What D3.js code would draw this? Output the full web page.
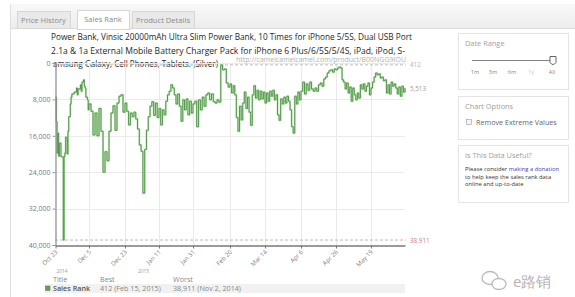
<!DOCTYPE html>
<html><head><meta charset="utf-8">
<script src="https://cdn.jsdelivr.net/npm/d3@7"></script>
<style>html,body{margin:0;padding:0;background:#fff;overflow:hidden}text{font-family:"Open Sans",sans-serif}</style>
</head><body><svg id="c" width="575" height="297"></svg>
<script>
// ---- data ----
const tabLabels = ["Price History", "Sales Rank", "Product Details"];
const titleLines = [
  "Power Bank, Vinsic 20000mAh Ultra Slim Power Bank, 10 Times for iPhone 5/5S, Dual USB Port",
  "2.1a & 1a External Mobile Battery Charger Pack for iPhone 6 Plus/6/5S/5/4S, iPad, iPod, S-",
  "amsung Galaxy, Cell Phones, Tablets. (Silver)"
];
const sourceUrl = "http://camelcamelcamel.com/product/B00NGG9IOU";
const tickDates = ["2014-10-23","2014-12-05","2014-12-23","2015-01-11","2015-01-31","2015-02-20","2015-03-14","2015-04-06","2015-04-26","2015-05-19"];
const tickLabels = ["Oct 23","Dec 5","Dec 23","Jan 11","Jan 31","Feb 20","Mar 14","Apr 6","Apr 26","May 19"];
const endDate = "2015-06-10";
const yearLabels = ["2014", "2015"];
const yearDates = ["2014-10-23", "2015-01-01"];
const yTicks = [0, 8000, 16000, 24000, 32000, 40000];
const rankDates = [
"2014-10-23","2014-10-24","2014-10-25","2014-10-26","2014-10-27","2014-10-28","2014-10-30","2014-10-31","2014-11-02","2014-11-03",
"2014-11-04","2014-11-05","2014-11-07","2014-11-08","2014-11-09","2014-11-11","2014-11-12","2014-11-13","2014-11-16","2014-11-19",
"2014-11-20","2014-11-21","2014-11-24","2014-11-25","2014-11-26","2014-11-28","2014-11-29","2014-11-30","2014-12-01","2014-12-03",
"2014-12-04","2014-12-05","2014-12-06","2014-12-07","2014-12-08","2014-12-09","2014-12-10","2014-12-11","2014-12-12","2014-12-13",
"2014-12-14","2014-12-15","2014-12-16","2014-12-17","2014-12-18","2014-12-19","2014-12-20","2014-12-21","2014-12-22","2014-12-23",
"2014-12-24","2014-12-25","2014-12-26","2014-12-27","2014-12-28","2014-12-29","2014-12-30","2014-12-31","2015-01-01","2015-01-02",
"2015-01-03","2015-01-04","2015-01-05","2015-01-06","2015-01-07","2015-01-08","2015-01-09","2015-01-10","2015-01-11","2015-01-12",
"2015-01-13","2015-01-14","2015-01-15","2015-01-16","2015-01-17","2015-01-18","2015-01-19","2015-01-20","2015-01-21","2015-01-22",
"2015-01-23","2015-01-24","2015-01-25","2015-01-26","2015-01-27","2015-01-28","2015-01-29","2015-01-30","2015-01-31","2015-02-01",
"2015-02-02","2015-02-03","2015-02-04","2015-02-05","2015-02-06","2015-02-07","2015-02-08","2015-02-09","2015-02-10","2015-02-11",
"2015-02-12","2015-02-13","2015-02-14","2015-02-15","2015-02-16","2015-02-17","2015-02-18","2015-02-19","2015-02-20","2015-02-21",
"2015-02-22","2015-02-23","2015-02-24","2015-02-25","2015-02-26","2015-02-27","2015-02-28","2015-03-01","2015-03-02","2015-03-03",
"2015-03-04","2015-03-05","2015-03-06","2015-03-07","2015-03-08","2015-03-09","2015-03-10","2015-03-11","2015-03-12","2015-03-13",
"2015-03-14","2015-03-15","2015-03-16","2015-03-17","2015-03-18","2015-03-19","2015-03-20","2015-03-21","2015-03-22","2015-03-23",
"2015-03-24","2015-03-25","2015-03-26","2015-03-27","2015-03-28","2015-03-29","2015-03-30","2015-03-31","2015-04-01","2015-04-02",
"2015-04-03","2015-04-04","2015-04-05","2015-04-06","2015-04-07","2015-04-08","2015-04-09","2015-04-10","2015-04-11","2015-04-12",
"2015-04-13","2015-04-14","2015-04-15","2015-04-16","2015-04-17","2015-04-18","2015-04-19","2015-04-20","2015-04-21","2015-04-22",
"2015-04-23","2015-04-24","2015-04-25","2015-04-26","2015-04-27","2015-04-28","2015-04-29","2015-04-30","2015-05-01","2015-05-02",
"2015-05-03","2015-05-04","2015-05-05","2015-05-06","2015-05-07","2015-05-08","2015-05-09","2015-05-10","2015-05-11","2015-05-12",
"2015-05-13","2015-05-14","2015-05-15","2015-05-16","2015-05-17","2015-05-18","2015-05-19","2015-05-20","2015-05-21","2015-05-22",
"2015-05-23","2015-05-24","2015-05-25","2015-05-26","2015-05-27","2015-05-28","2015-05-29","2015-05-30","2015-05-31","2015-06-01",
"2015-06-02","2015-06-03","2015-06-04","2015-06-05","2015-06-06","2015-06-07","2015-06-08","2015-06-09","2015-06-10"];
const rankValues = [
7500,12900,19800,15400,20500,17600,20600,20600,38911,20600,
19800,16300,20000,15000,11800,9000,7500,6800,6400,5500,
7000,5700,4800,6200,4200,3700,5100,5500,7500,8100,
10300,9000,10600,15800,11000,16000,10000,15000,24000,19500,
21500,15000,11000,9400,14800,8800,7300,7000,10800,8800,
10600,13600,11000,11800,10800,12300,14500,18000,19400,28600,
19000,14800,11800,9500,8500,11500,8800,12000,10000,13600,
10300,11400,8400,7000,6200,4800,5500,7000,9000,6800,
9500,12800,8100,10300,7900,11400,8400,11000,9000,8400,
14000,8100,10300,7500,9500,7000,6600,8100,6800,8500,
8800,8100,8600,412,1500,1300,4400,5300,4600,6600,
5000,7000,12000,15000,9500,12500,8800,6400,10000,7500,
10800,13700,7000,5000,7700,6000,8100,6200,7900,6400,
8800,6600,8400,6200,7300,6000,8100,7000,11400,12600,
7900,9000,7500,8800,7300,8400,10300,14000,15400,7300,
9000,6400,8100,6200,4200,6800,4600,6000,4200,5700,
6200,5500,6200,4800,4400,5100,3500,3100,2200,1700,
1500,2000,1300,1500,1100,900,1100,3700,4200,5700,
4400,6600,5300,8400,5500,7000,8100,6600,7700,4800,
5700,4600,6200,5100,4400,7000,5500,4200,3100,2200,
2600,2400,3300,3100,3900,3700,6600,4800,6800,4200,
5100,4600,5500,6800,5300,7300,5100,6400,5513];
const bestValue = 412, worstValue = 38911;
const legendHeaders = ["Title", "Best", "Worst"];
const legendRow = ["Sales Rank", "412 (Feb 15, 2015)", "38,911 (Nov 2, 2014)"];
const rangeLabels = ["1m", "3m", "6m", "1y", "All"];
const panelTitles = ["Date Range", "Chart Options", "Is This Data Useful?"];

// ---- drawing ----
const parse = d3.timeParse("%Y-%m-%d");
const svg = d3.select("#c");
const fmt = d3.format(",");

// page chrome
svg.append("rect").attr("x",0).attr("y",0).attr("width",575).attr("height",297).attr("fill","#fff");
const grad = svg.append("defs").append("linearGradient").attr("id","tb").attr("x1",0).attr("y1",0).attr("x2",0).attr("y2",1);
grad.append("stop").attr("offset","0").attr("stop-color","#f9f9f9");
grad.append("stop").attr("offset","1").attr("stop-color","#ededed");
svg.append("rect").attr("x",10).attr("y",4).attr("width",565).attr("height",24).attr("fill","url(#tb)");
svg.append("line").attr("x1",10).attr("x2",575).attr("y1",28.5).attr("y2",28.5).attr("stroke","#dcdcdc");
svg.append("line").attr("x1",10.5).attr("x2",10.5).attr("y1",4).attr("y2",297).attr("stroke","#dedede");

const tabBoxes = [[17,11,53,17],[77,10,52,19],[132,11,62,17]];
tabLabels.forEach((t,i)=>{
  const b = tabBoxes[i];
  svg.append("rect").attr("x",b[0]+0.5).attr("y",b[1]+0.5).attr("width",b[2]).attr("height",b[3])
    .attr("fill", i===1 ? "#fff" : "#e9e9e9").attr("stroke","#d6d6d6");
  svg.append("text").attr("x",b[0]+b[2]/2).attr("y",b[1]+11.5).attr("text-anchor","middle")
    .attr("font-size",7.6).attr("fill","#8a8a8a").text(t);
});

// title
const titleX = [51, 51, 53], titleW = [361, 354, 165], titleY = [40, 53.5, 66.5];
titleLines.forEach((t,i)=>{
  svg.append("text").attr("x",titleX[i]).attr("y",titleY[i]).attr("font-size",9.4).attr("fill","#262626")
    .attr("textLength",titleW[i]).attr("lengthAdjust","spacingAndGlyphs").text(t);
});

// scales
const x = d3.scaleTime()
  .domain(tickDates.map(parse).concat([parse(endDate)]))
  .range([55.5, 89, 125, 159, 193, 230, 265, 301, 336, 371, 405]);
const y = d3.scaleLinear().domain([0, 40000]).range([63, 245]);

// grid
svg.append("g").selectAll("line").data(yTicks).join("line")
  .attr("x1",55).attr("x2",405).attr("y1",d=>Math.round(y(d))+0.5).attr("y2",d=>Math.round(y(d))+0.5)
  .attr("stroke","#eaeaea");
svg.append("g").selectAll("line").data(tickDates.slice(1)).join("line")
  .attr("x1",d=>Math.round(x(parse(d)))+0.5).attr("x2",d=>Math.round(x(parse(d)))+0.5)
  .attr("y1",63).attr("y2",245).attr("stroke","#eaeaea");

// url
svg.append("text").attr("x",236).attr("y",62.3).attr("font-size",6.2).attr("fill","#b0b0b0")
  .attr("textLength",170).attr("lengthAdjust","spacingAndGlyphs").text(sourceUrl);

// best / worst dashed
[bestValue, worstValue].forEach((v,i)=>{
  svg.append("line").attr("x1",55).attr("x2",406).attr("y1",y(v)).attr("y2",y(v))
    .attr("stroke", "#bcbcbc").attr("stroke-dasharray","3,2").attr("stroke-width",1);
  svg.append("text").attr("x",410).attr("y",y(v)+2.5).attr("font-size",6.3)
    .attr("fill", i===0 ? "#b5b5b5" : "#c98080").text(fmt(v));
});

// series
const data = rankDates.map((d,i)=>({date: parse(d), v: rankValues[i]}));
const line = d3.line().x(d=>x(d.date)).y(d=>y(d.v)).curve(d3.curveStepAfter);
svg.append("path").datum(data).attr("d",line).attr("fill","none").attr("stroke","#c3e6bb").attr("stroke-width",2).attr("stroke-linejoin","round");
svg.append("path").datum(data).attr("d",line).attr("fill","none").attr("stroke","#4a8e42").attr("stroke-width",0.9);

// last value label
svg.append("text").attr("x",410).attr("y",y(rankValues[rankValues.length-1])+2.5).attr("font-size",6.3)
  .attr("fill","#9a9a9a").text(fmt(rankValues[rankValues.length-1]));

// axes
const yAxis = svg.append("g").attr("transform","translate(55.5,0)")
  .call(d3.axisLeft(y).tickValues(yTicks).tickFormat(fmt).tickSize(3).tickPadding(2));
yAxis.select(".domain").attr("stroke","#8a8a8a").attr("stroke-width",1.2);
yAxis.selectAll(".tick line").attr("stroke","#999");
yAxis.selectAll("text").attr("font-size",7).attr("fill","#777").attr("font-family","Open Sans");

const xAxis = svg.append("g").attr("transform","translate(0,245.5)")
  .call(d3.axisBottom(x).tickValues(tickDates.map(parse)).tickFormat((d,i)=>tickLabels[i]).tickSize(3).tickSizeOuter(0));
xAxis.select(".domain").attr("stroke","#9a9a9a").attr("stroke-width",2);
xAxis.selectAll(".tick line").attr("stroke","#777");
xAxis.selectAll("text").attr("font-size",6.2).attr("fill","#808080").attr("font-family","Open Sans")
  .attr("text-anchor","end").attr("dy",0).attr("dx",0).attr("y",0)
  .attr("transform","translate(2,7) rotate(-45)");

// year labels
yearLabels.forEach((t,i)=>{
  svg.append("text").attr("x",x(parse(yearDates[i]))+ (i===0?1:-3)).attr("y",273).attr("font-size",4.8).attr("fill","#999").text(t);
});

// legend
svg.append("rect").attr("x",45).attr("y",284).attr("width",360).attr("height",9).attr("fill","#f1f1f1");
const legX = [53, 100, 173];
legendHeaders.forEach((t,i)=>{
  svg.append("text").attr("x",legX[i]).attr("y",282).attr("font-size",7.2).attr("fill","#888").text(t);
});
legendRow.forEach((t,i)=>{
  svg.append("text").attr("x",legX[i]).attr("y",291).attr("font-size",7.2)
    .attr("fill", i===0 ? "#555" : "#888").attr("font-weight", i===0 ? 600 : 400).text(t);
});
svg.append("rect").attr("x",45.5).attr("y",286).attr("width",4.5).attr("height",4.5).attr("fill","#6a9a5e").attr("stroke","#4c7a44").attr("stroke-width",0.5);

// sidebar panels
const panels = [[458,33,110,56],[458,96,110,43],[458,145,110,57]];
panels.forEach((p,i)=>{
  svg.append("rect").attr("x",p[0]+0.5).attr("y",p[1]+0.5).attr("width",p[2]).attr("height",p[3])
    .attr("fill","#fff").attr("stroke","#e4e4e4");
  svg.append("text").attr("x",465).attr("y",p[1]+12.5).attr("font-size",7.4)
    .attr("font-family","Liberation Serif").attr("fill","#a0a0a0").text(panelTitles[i]);
});
// slider
svg.append("line").attr("x1",472).attr("x2",551).attr("y1",60.5).attr("y2",60.5).attr("stroke","#666").attr("stroke-width",0.8);
svg.append("path").attr("d","M550,56.5 h6 v6 q-3,4 -6,0 z").attr("fill","#fff").attr("stroke","#555").attr("stroke-width",0.9);
const rangeX = [475, 493, 512, 531, 552];
rangeLabels.forEach((t,i)=>{
  svg.append("text").attr("x",rangeX[i]).attr("y",74).attr("text-anchor","middle").attr("font-size",5.6)
    .attr("fill", i===3 ? "#c8c8c8" : "#888").text(t);
});
// checkbox
svg.append("rect").attr("x",466.5).attr("y",119.5).attr("width",5).attr("height",5).attr("fill","#f4f4f4").attr("stroke","#999").attr("stroke-width",0.6);
svg.append("text").attr("x",476).attr("y",125).attr("font-size",7.2).attr("fill","#666").attr("font-family","Liberation Sans").text("Remove Extreme Values");
// donation text
const don = svg.append("text").attr("x",465).attr("y",171).attr("font-size",5.8).attr("font-family","Liberation Sans").attr("fill","#333");
don.append("tspan").text("Please consider ");
don.append("tspan").attr("fill","#3344bb").text("making a donation");
svg.append("text").attr("x",465).attr("y",178.5).attr("font-size",5.8).attr("font-family","Liberation Sans").attr("fill","#333").text("to help keep the sales rank data");
svg.append("text").attr("x",465).attr("y",186).attr("font-size",5.8).attr("font-family","Liberation Sans").attr("fill","#333").text("online and up-to-date");

// watermark
const wm = svg.append("g").attr("fill","none").attr("stroke","#bbb").attr("stroke-width",1.3);
wm.append("ellipse").attr("cx",490).attr("cy",278).attr("rx",8).attr("ry",6.5);
wm.append("ellipse").attr("cx",499).attr("cy",284).attr("rx",7).attr("ry",5.5).attr("fill","#fff");
svg.append("text").attr("x",513).attr("y",287).attr("font-size",15).attr("fill","#b5b5b5")
  .attr("font-family","Noto Sans CJK SC").text("e路销");
</script></body></html>
